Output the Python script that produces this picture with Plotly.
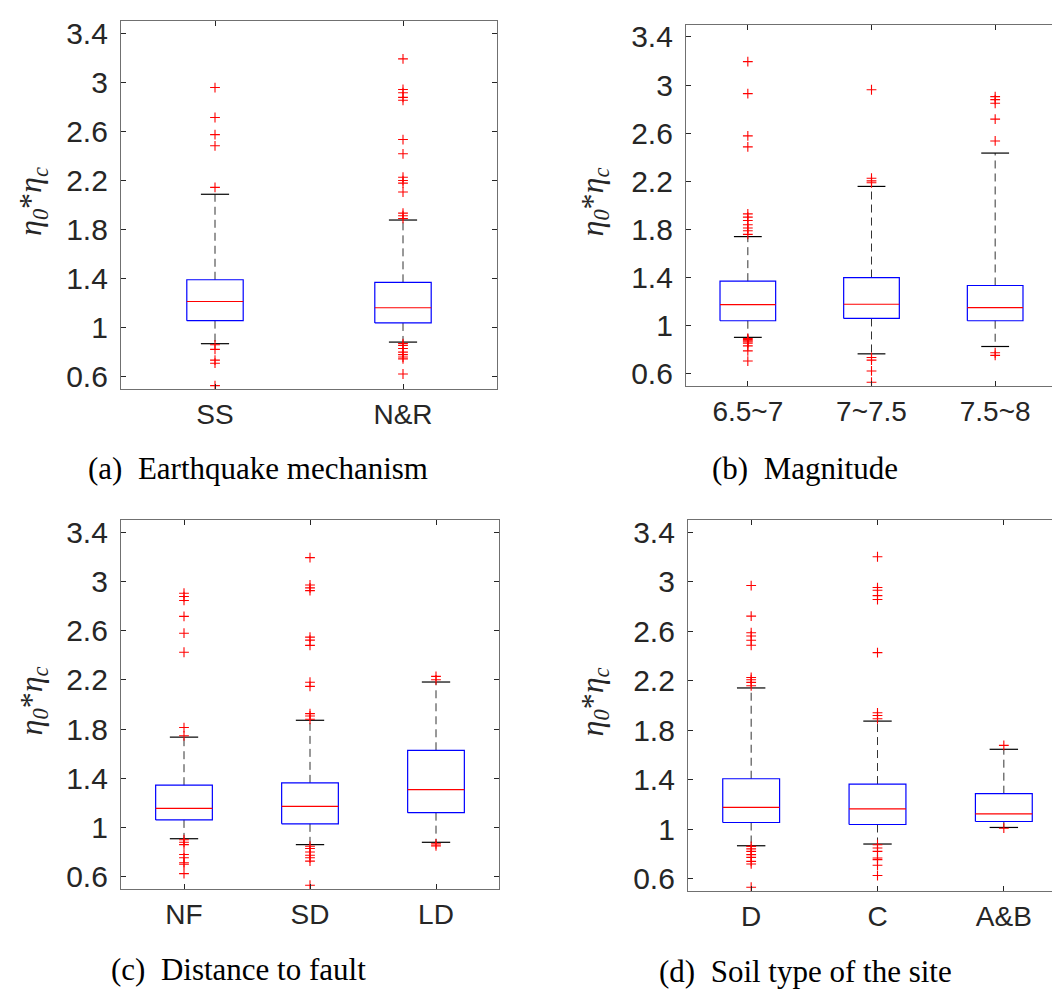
import plotly.graph_objects as go

# ---------------- data ----------------
# (a) Earthquake mechanism
cats_a = ["SS", "N&R"]
q1_a = [1.057, 1.038]
med_a = [1.213, 1.162]
q3_a = [1.390, 1.369]
lo_a = [0.869, 0.882]
hi_a = [2.087, 1.877]
out_a = [
    [2.957, 2.713, 2.573, 2.482, 2.143, 0.860, 0.823, 0.735, 0.710, 0.527],
    [3.191, 2.941, 2.915, 2.877, 2.853, 2.533, 2.417, 2.226, 2.199, 2.178, 2.105,
     1.933, 1.912, 1.890, 0.870, 0.855, 0.830, 0.800, 0.780, 0.760, 0.745, 0.622],
]

# (b) Magnitude
cats_b = ["6.5~7", "7~7.5", "7.5~8"]
q1_b = [1.042, 1.061, 1.042]
med_b = [1.176, 1.179, 1.151]
q3_b = [1.371, 1.401, 1.335]
lo_b = [0.904, 0.767, 0.828]
hi_b = [1.741, 2.158, 2.435]
out_b = [
    [3.195, 2.929, 2.578, 2.487, 1.930, 1.903, 1.875, 1.840, 1.812, 1.790, 1.760,
     0.895, 0.885, 0.875, 0.865, 0.855, 0.833, 0.792, 0.707],
    [2.961, 2.226, 2.204, 2.188, 0.737, 0.715, 0.625, 0.531],
    [2.904, 2.879, 2.849, 2.717, 2.536, 0.776, 0.754],
]

# (c) Distance to fault
cats_c = ["NF", "SD", "LD"]
q1_c = [1.061, 1.029, 1.120]
med_c = [1.155, 1.171, 1.308]
q3_c = [1.343, 1.362, 1.627]
lo_c = [0.908, 0.860, 0.879]
hi_c = [1.734, 1.871, 2.182]
out_c = [
    [2.904, 2.877, 2.845, 2.716, 2.579, 2.424, 1.812, 1.745,
     0.900, 0.879, 0.860, 0.780, 0.753, 0.713, 0.700, 0.624],
    [3.193, 2.971, 2.947, 2.925, 2.547, 2.523, 2.480, 2.180, 2.147, 1.925, 1.906,
     1.879, 0.847, 0.828, 0.800, 0.774, 0.753, 0.726, 0.530],
    [2.228, 2.200, 0.866, 0.850],
]

# (d) Soil type of the site
cats_d = ["D", "C", "A&B"]
q1_d = [1.053, 1.037, 1.061]
med_d = [1.176, 1.163, 1.123]
q3_d = [1.407, 1.364, 1.286]
lo_d = [0.865, 0.879, 1.013]
hi_d = [2.141, 1.873, 1.645]
out_d = [
    [2.969, 2.722, 2.588, 2.561, 2.527, 2.486, 2.226, 2.208, 2.186, 2.159,
     0.860, 0.840, 0.820, 0.793, 0.771, 0.739, 0.718, 0.530],
    [3.202, 2.953, 2.931, 2.888, 2.856, 2.427, 1.940, 1.918, 1.892,
     0.873, 0.847, 0.820, 0.766, 0.753, 0.707, 0.624],
    [1.677, 1.007],
]

y_ticks = [0.6, 1.0, 1.4, 1.8, 2.2, 2.6, 3.0, 3.4]
y_ticktext = ["0.6", "1", "1.4", "1.8", "2.2", "2.6", "3", "3.4"]

subtitles = ["(a)  Earthquake mechanism", "(b)  Magnitude",
             "(c)  Distance to fault", "(d)  Soil type of the site"]

# ---------------- layout helpers ----------------
W, H = 1060, 998
# plot areas in pixels: (left, right, top, bottom)
areas = [(113, 489, 9, 380), (678, 1049, 13, 377),
         (113, 491, 512, 884), (680, 1059, 512, 886)]
half_w = [0.15, 0.225, 0.225, 0.225]
ylab_x = [25, 586, 25, 586]
sub_pos = [(250, 460), (797, 460), (230, 965), (797, 967)]

panels = [
    (cats_a, q1_a, med_a, q3_a, lo_a, hi_a, out_a),
    (cats_b, q1_b, med_b, q3_b, lo_b, hi_b, out_b),
    (cats_c, q1_c, med_c, q3_c, lo_c, hi_c, out_c),
    (cats_d, q1_d, med_d, q3_d, lo_d, hi_d, out_d),
]

fig = go.Figure()
layout = dict(width=W, height=H, margin=dict(l=0, r=0, t=0, b=0),
              paper_bgcolor="white", plot_bgcolor="white", showlegend=False)
annotations = []

ytick_font = dict(family="Liberation Sans, Arial, sans-serif", size=30, color="#262626")
xtick_font = dict(family="Liberation Sans, Arial, sans-serif", size=28, color="#262626")

for i, (cats, q1, med, q3, lo, hi, outs) in enumerate(panels):
    n = len(cats)
    pos = list(range(1, n + 1))
    w = half_w[i]
    c = w / 2
    xa = "x" if i == 0 else f"x{i+1}"
    ya = "y" if i == 0 else f"y{i+1}"

    wx, wy = [], []
    bx, by = [], []
    mx, my = [], []
    cx, cy = [], []
    ox, oy = [], []
    for p, a, m, b, l, h, o in zip(pos, q1, med, q3, lo, hi, outs):
        wx += [p, p, None, p, p, None]
        wy += [b, h, None, a, l, None]
        bx += [p - w, p + w, p + w, p - w, p - w, None]
        by += [a, a, b, b, a, None]
        mx += [p - w, p + w, None]
        my += [m, m, None]
        cx += [p - c, p + c, None, p - c, p + c, None]
        cy += [h, h, None, l, l, None]
        ox += [p] * len(o)
        oy += o

    fig.add_trace(go.Scatter(x=wx, y=wy, mode="lines", xaxis=xa, yaxis=ya,
                             line=dict(color="#333333", width=1, dash="8px,5px")))
    fig.add_trace(go.Scatter(x=bx, y=by, mode="lines", xaxis=xa, yaxis=ya,
                             line=dict(color="#0000ff", width=1.2)))
    fig.add_trace(go.Scatter(x=mx, y=my, mode="lines", xaxis=xa, yaxis=ya,
                             line=dict(color="#ff0000", width=1.2)))
    fig.add_trace(go.Scatter(x=cx, y=cy, mode="lines", xaxis=xa, yaxis=ya,
                             line=dict(color="#000000", width=1.2)))
    fig.add_trace(go.Scatter(x=ox, y=oy, mode="markers", xaxis=xa, yaxis=ya,
                             marker=dict(symbol="cross-thin", size=7,
                                         line=dict(color="#ff0000", width=1.1))))

    L, R, T, B = areas[i]
    xkey = "xaxis" if i == 0 else f"xaxis{i+1}"
    ykey = "yaxis" if i == 0 else f"yaxis{i+1}"
    layout[xkey] = dict(domain=[L / W, R / W], anchor=ya, range=[0.5, n + 0.5],
                        tickvals=pos, ticktext=cats, showgrid=False, zeroline=False,
                        showline=True, linecolor="#707070", linewidth=1.3, mirror="ticks",
                        ticks="inside", ticklen=5, tickcolor="#262626", tickwidth=1,
                        tickfont=xtick_font, ticklabelstandoff=0)
    layout[ykey] = dict(domain=[1 - B / H, 1 - T / H], anchor=xa, range=[0.5, 3.5],
                        tickvals=y_ticks, ticktext=y_ticktext, showgrid=False,
                        zeroline=False, showline=True, linecolor="#707070", linewidth=1.3,
                        mirror="ticks", ticks="inside", ticklen=5, tickcolor="#262626",
                        tickwidth=1, tickfont=ytick_font, ticklabelstandoff=6)

    annotations.append(dict(
        text="<i>η</i><sub><i>0</i></sub>*<i>η</i><sub><i>c</i></sub>",
        x=ylab_x[i] / W, y=1 - ((T + B) / 2 - 3) / H, xref="paper", yref="paper",
        textangle=-90, showarrow=False, xanchor="center", yanchor="middle",
        font=dict(family="Liberation Serif, Times New Roman, serif", size=32, color="#262626")))
    sx, sy = sub_pos[i]
    annotations.append(dict(
        text=subtitles[i], x=sx / W, y=1 - sy / H, xref="paper", yref="paper",
        showarrow=False, xanchor="center", yanchor="middle",
        font=dict(family="Liberation Serif, Times New Roman, serif", size=31, color="#000000")))

layout["annotations"] = annotations
fig.update_layout(**layout)
fig.write_html("out.html")
